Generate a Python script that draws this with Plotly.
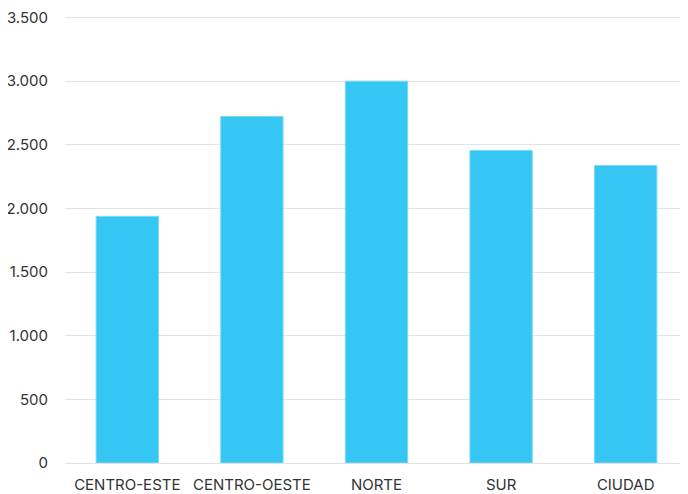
import plotly.graph_objects as go

regiones = ["CENTRO-ESTE", "CENTRO-OESTE", "NORTE", "SUR", "CIUDAD"]
valores = [1938, 2722, 3000, 2456, 2337]
y_ticks = [0, 500, 1000, 1500, 2000, 2500, 3000, 3500]

fig = go.Figure()

fig.add_trace(
    go.Bar(
        x=regiones,
        y=valores,
        width=0.5,
        marker=dict(color="#35C6F4", line=dict(color="#7AD8F7", width=1)),
        hoverinfo="skip",
    )
)

# la page a une marge de 8px autour de la figure
fig.update_layout(
    width=680,
    height=486,
    plot_bgcolor="white",
    paper_bgcolor="white",
    showlegend=False,
    separators=",.",
    font=dict(family="Inter, Liberation Sans, Arial, sans-serif", size=15, color="#333333"),
    margin=dict(l=57, r=0, t=7, b=31),
    xaxis=dict(
        showgrid=False,
        showline=False,
        ticks="",
        automargin=False,
        ticklabelstandoff=11,
        ticklabeloverflow="allow",
    ),
    yaxis=dict(
        range=[0, 3520],
        tickvals=y_ticks,
        tickformat=",d",
        showgrid=True,
        gridcolor="#E3E3E3",
        gridwidth=1,
        zeroline=True,
        zerolinecolor="#E3E3E3",
        zerolinewidth=1,
        showline=False,
        ticks="",
        automargin=False,
        ticklabelstandoff=16,
        ticklabeloverflow="allow",
    ),
)

fig.write_html("out.html")
